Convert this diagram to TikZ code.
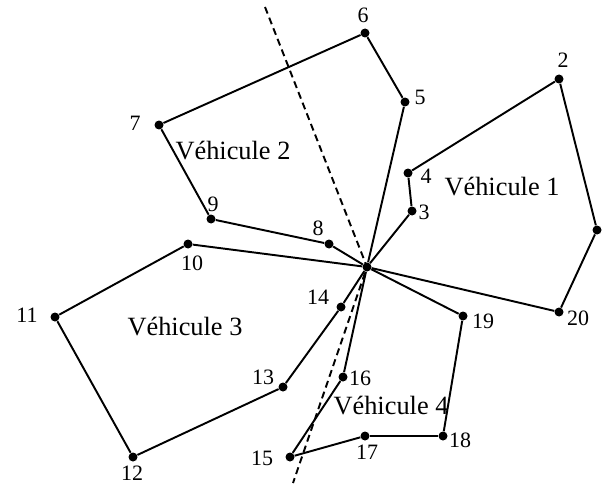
\documentclass[tikz,border=0pt]{standalone}
\usepackage{fontspec}
\setmainfont{Liberation Serif}

\tikzset{
	dot/.style={circle, fill=black, inner sep=0pt, minimum size=0.18cm},
	num/.style={font=\fontsize{12.5}{14}\selectfont, inner sep=0pt},
	veh/.style={font=\fontsize{15}{17}\selectfont},
	route/.style={line width=1.1pt},
	split/.style={line width=1.1pt, dash pattern=on 4pt off 2.5pt}
}

\begin{document}
\begin{tikzpicture}[x=0.02cm, y=-0.02cm]
			\useasboundingbox (0,0) rectangle (607,486);
			
			% depot and customers
			\node[dot] (d) at (367,267) {};
			\node[dot] (n1) at (597,230) {};
			\node[dot] (n2) at (559,79) {};
			\node[dot] (n3) at (412,211) {};
			\node[dot] (n4) at (408,173) {};
			\node[dot] (n5) at (405,102) {};
			\node[dot] (n6) at (365,33) {};
			\node[dot] (n7) at (159,125) {};
			\node[dot] (n8) at (329,244) {};
			\node[dot] (n9) at (211,219) {};
			\node[dot] (n10) at (188,244) {};
			\node[dot] (n11) at (55,317) {};
			\node[dot] (n12) at (133,457) {};
			\node[dot] (n13) at (283,387) {};
			\node[dot] (n14) at (341,307) {};
			\node[dot] (n15) at (290,457) {};
			\node[dot] (n16) at (343,377) {};
			\node[dot] (n17) at (365,436) {};
			\node[dot] (n18) at (443,436) {};
			\node[dot] (n19) at (463,316) {};
			\node[dot] (n20) at (559,312) {};
			
			% customer numbers
			\node[num] (l2) at (563,60) {2};
			\node[num] (l3) at (424,212) {3};
			\node[num] (l4) at (426,176) {4};
			\node[num] (l5) at (420,97) {5};
			\node[num] (l6) at (363,15) {6};
			\node[num] (l7) at (135,123) {7};
			\node[num] (l8) at (318,228) {8};
			\node[num] (l9) at (213,204) {9};
			\node[num] (l10) at (192,263) {10};
			\node[num] (l11) at (27,315) {11};
			\node[num] (l12) at (132,473) {12};
			\node[num] (l13) at (263,377) {13};
			\node[num] (l14) at (318,297) {14};
			\node[num] (l15) at (262,458) {15};
			\node[num] (l16) at (360,378) {16};
			\node[num] (l17) at (367,452) {17};
			\node[num] (l18) at (460,440) {18};
			\node[num] (l19) at (483,321) {19};
			\node[num] (l20) at (578,318) {20};
			
			% routes
			\foreach \a/\b in {d/n3, n3/n4, n4/n2, n2/n1, n1/n20, n20/d}{
				\draw[route] (\a) -- (\b);
			}
			\foreach \a/\b in {d/n8, n8/n9, n9/n7, n7/n6, n6/n5, n5/d}{
				\draw[route] (\a) -- (\b);
			}
			\foreach \a/\b in {d/n14, n14/n13, n13/n12, n12/n11, n11/n10, n10/d}{
				\draw[route] (\a) -- (\b);
			}
			\foreach \a/\b in {d/n16, n16/n15, n15/n17, n17/n18, n18/n19, n19/d}{
				\draw[route] (\a) -- (\b);
			}
			
			% sector split
			\coordinate (top) at (265,7);
			\coordinate (bot) at (293,483);
			\draw[split] (top) -- (d.center) -- (bot);
			
			\node[veh] (v1) at (502,187) {Véhicule 1};
			\node[veh] (v2) at (233,151) {Véhicule 2};
			\node[veh] (v3) at (185,327) {Véhicule 3};
			\node[veh] (v4) at (391,406) {Véhicule 4};
		\end{tikzpicture}
\end{document}
